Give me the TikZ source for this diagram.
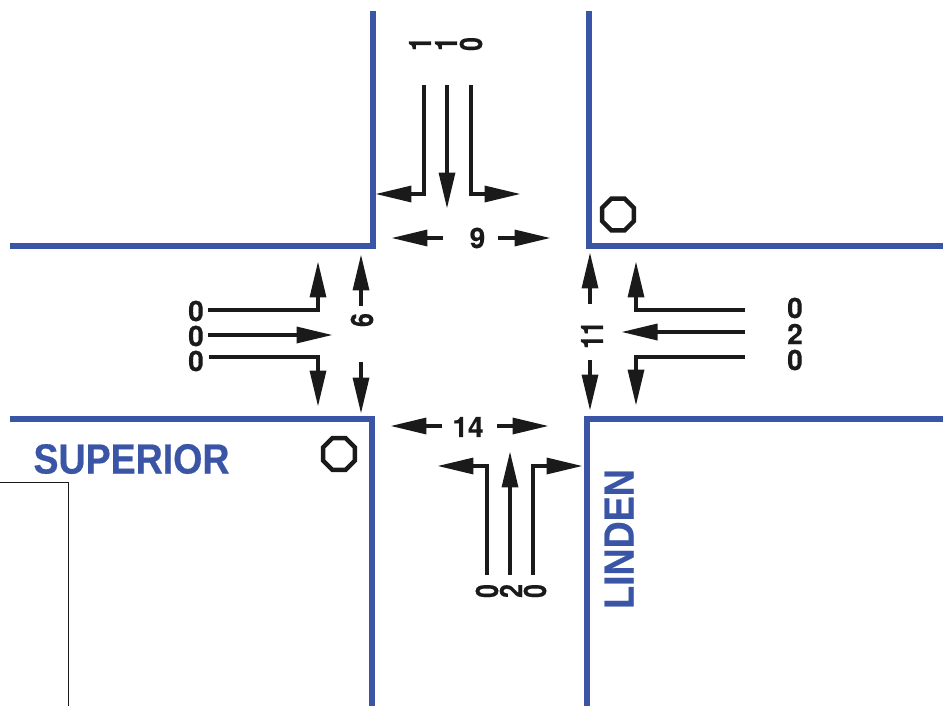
\documentclass[tikz,border=0pt]{standalone}
\usepackage{fontspec}
\setmainfont{Liberation Sans}
\newfontfamily\countfont[BoldFeatures={FakeBold=0.3}]{TeX Gyre Heros}
\newfontfamily\roadfont[FakeStretch=0.89,BoldFeatures={FakeBold=0.5}]{Liberation Sans}
\usetikzlibrary{shapes.geometric, arrows.meta, positioning}
\definecolor{roadblue}{HTML}{3A55A5}
\definecolor{inkblack}{HTML}{1A1A1A}
\tikzset{
  curb/.style={draw=roadblue, line width=0.11cm, line join=miter},
  move/.style={draw=inkblack, line width=0.068cm, line join=miter, shorten >=-0.03cm,
    -{Triangle[length=7.2mm,width=3.2mm]}},
  count/.style={inkblack, inner sep=0pt, font=\fontsize{16}{16}\selectfont\countfont\bfseries},
  roadname/.style={roadblue, inner sep=0pt, font=\fontsize{24}{24}\selectfont\roadfont\bfseries},
  stopsign/.style={regular polygon, regular polygon sides=8, draw=inkblack,
    line width=0.09cm, minimum size=0.69cm, inner sep=0pt},
}

\begin{document}
\begin{tikzpicture}[x=0.02cm,y=-0.02cm]
\useasboundingbox (0,0) rectangle (943,706);
% Curbs
\draw[curb] (373,11) -- (373,246) -- (10,246);
\draw[curb] (589,11) -- (589,246) -- (943,246);
\draw[curb] (10,419) -- (372,419) -- (372,706);
\draw[curb] (943,419) -- (587,419) -- (587,706);
% Thin frame
\draw[inkblack, line width=0.4pt] (0,482) -- (68,482) -- (68,706);

% Stop signs
\node[stopsign] (stopNE) at (618,214.5) {};
\node[stopsign] (stopSW) at (339,454) {};

% Road names
\node[roadname] (superior) at (131.5,459) {SUPERIOR};
\node[roadname, rotate=90] (linden) at (619,539) {LINDEN};

% Turning movements
\foreach \ax/\ay/\bx/\by/\cx/\cy in {
  424/85/424/194/377/194, 471/85/471/194/519/194,
  208/310/318/310/318/263, 209/357/318/357/318/405,
  745/310/636/310/636/263, 745/357/636/357/636/404,
  487/575/487/466/439/466, 533/575/533/466/581/466} {
  \draw[move] (\ax,\ay) -- (\bx,\by) -- (\cx,\cy);
}
% Through movements and crosswalks
\foreach \ax/\ay/\bx/\by in {
  447/85/447/207, 208/335/331/335, 745/332/623/332, 510/575/510/453,
  443/238/393/238, 498/238/549/238, 442/426/392/426, 497/426/547/426,
  361/306/361/256, 361/362/361/412, 590/304/590/254, 590/360/590/409} {
  \draw[move] (\ax,\ay) -- (\bx,\by);
}

% Counts, upright
\foreach \n/\x/\y/\t in {w1/196/311/0, w2/196/336/0, w3/196/361/0,
  e1/795/308/0, e2/795/334/2, e3/795/360/0, pn/477.5/238/9, ps/468/427/14} {
  \node[count] (\n) at (\x,\y) {\t};
}
% Counts, turned (these are narrower and taller)
\foreach \n/\x/\y/\t in {n1/420/44/1, n2/446/44/1, n3/471/44/0,
  s1/487/591/0, s2/511/591/2, s3/535/591/0, pw/362/320/6, pe/592/335/11} {
  \node[count, rotate=90] (\n) at (\x,\y) {\scalebox{0.88}[1.1]{\t}};
}
\end{tikzpicture}
\end{document}
